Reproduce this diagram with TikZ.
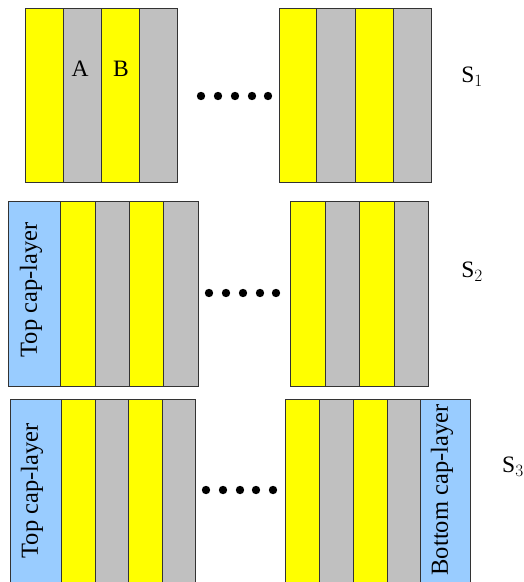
\documentclass[tikz,border=0pt]{standalone}
\usepackage{fontspec}
\setmainfont{Liberation Serif}
\definecolor{ylw}{HTML}{FFFF00}
\definecolor{gry}{HTML}{C0C0C0}
\definecolor{capblue}{HTML}{99CCFF}
\definecolor{edge}{HTML}{333333}
\begin{document}
\begin{tikzpicture}[x=1pt,y=-1pt,
  ly/.style={fill=ylw,draw=edge,line width=1pt},
  lg/.style={fill=gry,draw=edge,line width=1pt},
  lc/.style={fill=capblue,draw=edge,line width=1pt},
  lbl/.style={font=\fontsize{23.5}{25}\selectfont,inner sep=0pt},
  caplbl/.style={font=\fontsize{24.5}{26}\selectfont,inner sep=0pt,rotate=90}]
\useasboundingbox (0,0) rectangle (523,582);
\clip (0,0) rectangle (523,582);
% ---------- S1 ----------
\path[ly] (25,8) rectangle (63,182);
\path[lg] (63,8) rectangle (101,182);
\path[ly] (101,8) rectangle (139,182);
\path[lg] (139,8) rectangle (177,182);
\path[ly] (279,8) rectangle (316,182);
\path[lg] (316,8) rectangle (355,182);
\path[ly] (355,8) rectangle (393,182);
\path[lg] (393,8) rectangle (431,182);
\foreach \x in {201,218,235,252,268} \fill (\x,96) circle (4.2);
\node[lbl] (A) at (80,69) {A};
\node[lbl] (B) at (121,69) {B};
\node[lbl] (s1) at (472,77) {S$_1$};
% ---------- S2 ----------
\path[lc] (8,201) rectangle (60,386);
\path[ly] (60,201) rectangle (95,386);
\path[lg] (95,201) rectangle (129,386);
\path[ly] (129,201) rectangle (163,386);
\path[lg] (163,201) rectangle (198,386);
\path[ly] (290,201) rectangle (325,386);
\path[lg] (325,201) rectangle (359,386);
\path[ly] (359,201) rectangle (394,386);
\path[lg] (394,201) rectangle (428,386);
\foreach \x in {209,226,243,260,276} \fill (\x,293) circle (4.2);
\node[caplbl] (top2) at (31,290) {Top cap-layer};
\node[lbl] (s2) at (472,272) {S$_2$};
% ---------- S3 ----------
\path[lc] (10,399) rectangle (61,590);
\path[ly] (61,399) rectangle (95,590);
\path[lg] (95,399) rectangle (128,590);
\path[ly] (128,399) rectangle (162,590);
\path[lg] (162,399) rectangle (195,590);
\path[ly] (285,399) rectangle (319,590);
\path[lg] (319,399) rectangle (353,590);
\path[ly] (353,399) rectangle (387,590);
\path[lg] (387,399) rectangle (420,590);
\path[lc] (420,399) rectangle (470,590);
\foreach \x in {206,223,240,256,273} \fill (\x,490) circle (4.2);
\node[caplbl] (top3) at (32,491) {Top cap-layer};
\node[caplbl] (bot3) at (442,490) {Bottom cap-layer};
\node[lbl,anchor=west] (s3) at (502,467) {S$_3$};
\end{tikzpicture}
\end{document}
